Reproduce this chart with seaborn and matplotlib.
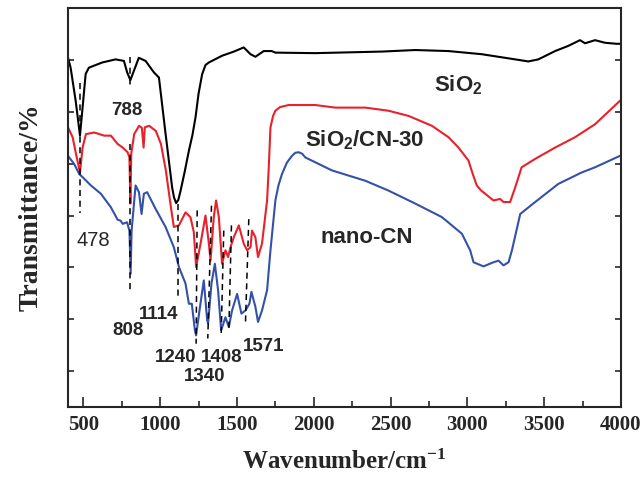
import numpy as np
import pandas as pd
import matplotlib
matplotlib.use("Agg")
import matplotlib.pyplot as plt
import seaborn as sns

# FTIR spectra (wavenumber in cm-1, transmittance in arbitrary offset units)
wn_sio2 = [400, 417, 450, 478, 493, 515, 536, 623, 710, 764, 785, 806, 829, 861, 905, 959, 992,
           1035, 1078, 1090, 1104, 1118, 1133, 1160, 1187, 1210, 1230, 1250, 1273, 1295, 1317,
           1403, 1480, 1544, 1588, 1620, 1674, 1726, 1750, 2010, 2441, 2661, 2877, 3092, 3311,
           3397, 3462, 3571, 3657, 3733, 3766, 3831, 3896, 3971, 4000]
t_sio2 = [60.4, 58.5, 52.1, 45.4, 50.2, 57.3, 58.5, 59.5, 60.1, 59.8, 57.6, 56.1, 57.9, 60.4, 59.8,
          57.6, 56.6, 45.8, 35.4, 33.5, 32.4, 33.0, 34.8, 38.5, 42.5, 45.5, 48.9, 53.5, 57.2, 59.0,
          59.5, 60.8, 61.6, 62.4, 61.1, 60.6, 61.7, 61.7, 61.4, 61.3, 61.6, 61.9, 61.7, 61.1,
          60.1, 59.7, 60.1, 61.7, 62.7, 63.8, 63.2, 63.8, 63.3, 63.1, 63.1]

wn_cn30 = [400, 430, 452, 478, 495, 517, 571, 636, 679, 723, 756, 788, 800, 806, 812, 831, 863,
           881, 892, 900, 928, 972, 1005, 1037, 1070, 1089, 1122, 1165, 1197, 1219, 1234, 1263,
           1295, 1317, 1328, 1349, 1364, 1382, 1403, 1425, 1442, 1458, 1479, 1512, 1544, 1566,
           1588, 1598, 1620, 1637, 1663, 1696, 1707, 1718, 1735, 1750, 1780, 1837, 2010, 2140,
           2335, 2487, 2617, 2769, 2877, 2942, 3007, 3035, 3061, 3090, 3116, 3170, 3213, 3235,
           3278, 3311, 3353, 3440, 3571, 3701, 3831, 3971, 4000]
t_cn30 = [47.0, 45.1, 41.9, 38.3, 43.1, 45.7, 46.0, 45.4, 45.4, 43.8, 43.1, 42.2, 41.2, 32.3, 42.0,
          45.7, 47.3, 46.9, 43.1, 47.0, 47.3, 46.3, 43.8, 38.7, 31.6, 27.8, 28.1, 30.6, 29.7, 26.8,
          20.1, 24.6, 30.0, 24.6, 21.3, 29.7, 32.9, 29.7, 20.7, 23.3, 22.0, 23.9, 25.8, 28.1, 24.6,
          23.3, 23.9, 27.1, 25.8, 22.0, 24.6, 32.9, 39.3, 47.0, 49.2, 50.2, 50.9, 51.3, 51.3, 50.8,
          50.8, 50.2, 49.2, 47.3, 45.1, 43.1, 40.6, 38.0, 35.8, 34.8, 34.2, 32.9, 33.2, 32.6,
          32.6, 35.4, 39.3, 40.9, 43.1, 45.1, 47.6, 51.5, 52.3]

wn_cn = [400, 441, 473, 495, 549, 614, 679, 723, 743, 756, 785, 800, 808, 814, 840, 862, 879,
         894, 915, 970, 1035, 1089, 1122, 1165, 1187, 1206, 1226, 1234, 1256, 1284, 1306, 1312,
         1334, 1356, 1377, 1397, 1425, 1447, 1468, 1501, 1529, 1555, 1581, 1594, 1620, 1637,
         1663, 1696, 1718, 1750, 1770, 1793, 1825, 1858, 1880, 1902, 1925, 1945, 2118, 2336,
         2487, 2661, 2834, 2964, 3018, 3040, 3105, 3170, 3203, 3235, 3268, 3290, 3344, 3441,
         3592, 3744, 3831, 3971, 4000]
t_cn = [41.5, 39.9, 38.0, 37.4, 35.8, 34.2, 31.6, 29.2, 29.0, 28.4, 28.7, 27.0, 18.8, 27.1, 35.8,
        34.5, 30.3, 34.2, 34.5, 31.3, 27.8, 23.9, 20.1, 16.9, 13.0, 13.0, 7.9, 6.9, 11.7, 17.5,
        9.8, 9.2, 16.9, 20.7, 15.6, 7.9, 10.4, 8.5, 11.7, 14.9, 11.1, 11.7, 13.0, 15.3, 12.4, 9.5,
        11.7, 15.6, 23.3, 32.9, 35.8, 38.0, 40.2, 41.5, 42.1, 42.2, 41.9, 41.2, 38.7, 36.7, 34.8,
        32.3, 29.7, 26.5, 23.3, 21.0, 20.2, 21.0, 21.3, 20.4, 21.0, 23.3, 30.3, 32.6, 36.1, 38.3,
        39.3, 41.2, 41.6]

# dashed guide lines: (wn top, T top, wn bottom, T bottom)
guide_lines = [(478, 55.6, 478, 30.4), (806, 60.6, 806, 54.4), (806, 43.8, 806, 15.6),
               (1117, 32.3, 1117, 14.3), (1241, 31.0, 1234, 5.3), (1334, 31.9, 1310, 6.3),
               (1414, 27.1, 1397, 6.9), (1464, 28.1, 1447, 7.7), (1577, 29.3, 1555, 9.1)]

# peak labels: text, wn, T
peak_labels = [("788", 784, 50.2), ("808", 793, 7.9), ("1114", 988, 11.0), ("1240", 1100, 2.6),
               ("1340", 1289, -1.1), ("1408", 1403, 2.6), ("1571", 1674, 4.8)]

sns.set_style("ticks")
plt.rcParams['font.family'] = ['Liberation Sans', 'DejaVu Sans']

fig = plt.figure(figsize=(6.44, 4.82), dpi=100)
ax = fig.add_axes([68 / 644, 1 - 407 / 482, 553 / 644, 399 / 482])

sns.lineplot(x=wn_sio2, y=t_sio2, color='black', lw=1.5, ax=ax, estimator=None)
sns.lineplot(x=wn_cn30, y=t_cn30, color='#e8212b', lw=1.5, ax=ax, estimator=None)
sns.lineplot(x=wn_cn, y=t_cn, color='#3451a8', lw=1.5, ax=ax, estimator=None)

for x0, y0, x1, y1 in guide_lines:
    ax.plot([x0, x1], [y0, y1], color='black', lw=1.1, ls=(0, (4, 3)))

for txt, x, y in peak_labels:
    ax.text(x, y, txt, fontsize=13.5, fontweight='bold', ha='center', va='center')
ax.text(566, 25.1, "478", fontsize=14.5, ha='center', va='center')

ax.text(2780, 55.2, r"SiO$\mathregular{_2}$", fontsize=16, fontweight='bold', va='center')
ax.text(1945, 44.6, r"SiO$\mathregular{_2}$/CN-30", fontsize=16, fontweight='bold', va='center')
ax.text(2043, 25.8, "nano-CN", fontsize=16, fontweight='bold', va='center')

ax.set_xlim(400, 4000)
ax.set_ylim(-6.9, 70)
ax.set_xticks(np.arange(500, 4001, 500))
ax.set_xticks(np.arange(500, 4001, 250), minor=True)
ax.set_yticks(np.arange(0, 71, 10))
ax.set_yticklabels([])
ax.tick_params(axis='x', direction='in', length=7, width=1.2, pad=6)
ax.tick_params(axis='x', which='minor', direction='in', length=4, width=1.2)
ax.tick_params(axis='y', direction='in', length=4, width=1.2, left=True, right=True)
for lbl in ax.get_xticklabels():
    lbl.set_fontfamily('Liberation Serif')
    lbl.set_fontweight('bold')
    lbl.set_fontsize(15)
for s in ax.spines.values():
    s.set_linewidth(1.5)

ax.set_xlabel(r"Wavenumber/cm$\mathregular{^{-1}}$", fontsize=18, fontweight='bold',
              family='Liberation Serif', labelpad=10)
ax.set_ylabel("Transmittance/%", fontsize=20, fontweight='bold', family='Liberation Serif',
              labelpad=14)

fig.savefig("out.png", dpi=100)
